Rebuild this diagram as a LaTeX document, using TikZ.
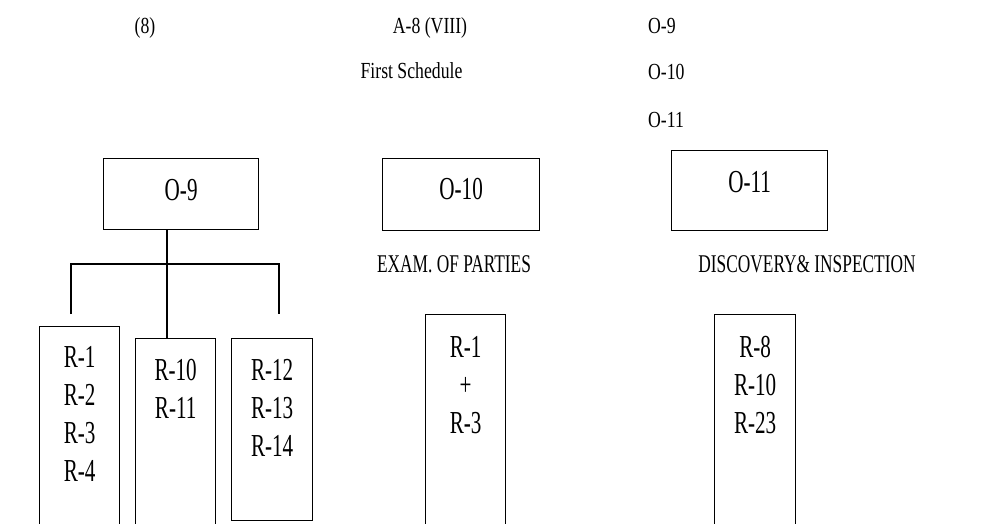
\documentclass[tikz,border=0pt]{standalone}
\usepackage{fontspec}
\setmainfont{Liberation Serif}
\newfontfamily\smallfnt[FakeStretch=0.77]{Liberation Serif}
\newfontfamily\midfnt[FakeStretch=0.68]{Liberation Serif}
\newfontfamily\bigfnt[FakeStretch=0.66]{Liberation Serif}
\newcommand{\ls}{38}

\begin{document}
\begin{tikzpicture}[x=1pt, y=-1pt,
    rect/.style={draw, rectangle, anchor=north west, line width=1.3pt, inner sep=0pt},
    link/.style={line width=1.3pt},
    head/.style={anchor=base, inner sep=0pt, font=\smallfnt\fontsize{23}{27}\selectfont},
    sub/.style={anchor=base, inner sep=0pt, font=\midfnt\fontsize{25.5}{30}\selectfont},
    big/.style={anchor=base, inner sep=0pt, font=\bigfnt\fontsize{32}{38}\selectfont}]
    \useasboundingbox (0,0) rectangle (1002,524);
    \clip (0,0) rectangle (1002,524);

    % Heading
    \node[head] (page) at (145,34) {(8)};
    \node[head] (act) at (430,34) {A-8 (VIII)};
    \node[head] (sched) at (411.5,79) {First Schedule};
    \node[head, anchor=base west] (head-9) at (648,34) {O-9};
    \node[head, anchor=base west] (head-10) at (648,80) {O-10};
    \node[head, anchor=base west] (head-11) at (648,127.5) {O-11};

    % Order boxes
    \node[rect, minimum width=155pt, minimum height=71pt] (rect-9) at (103,158) {};
    \node[rect, minimum width=157pt, minimum height=72pt] (rect-10) at (382,158) {};
    \node[rect, minimum width=156pt, minimum height=80pt] (rect-11) at (671,150) {};
    \node[big] (name-9) at (rect-9.north |- 0,200.5) {O-9};
    \node[big] (name-10) at (rect-10.north |- 0,199.5) {O-10};
    \node[big] (name-11) at (rect-11.north |- 0,192.5) {O-11};

    \node[sub] (title-10) at (454,272) {EXAM. OF PARTIES};
    \node[sub] (title-11) at (807,272) {DISCOVERY\& INSPECTION};

    % Rule boxes
    \node[rect, minimum width=80pt, minimum height=210pt] (list-9-1) at (39,326) {};
    \node[rect, minimum width=80pt, minimum height=200pt] (list-9-2) at (135,338) {};
    \node[rect, minimum width=81pt, minimum height=182pt] (list-9-3) at (231,338) {};
    \node[rect, minimum width=80pt, minimum height=220pt] (list-10) at (425,314) {};
    \node[rect, minimum width=81pt, minimum height=220pt] (list-11) at (714,314) {};

    \node[big] (rule-9-1-1) at (list-9-1.north |- 0,367) {R-1};
    \node[big] (rule-9-1-2) at (list-9-1.north |- 0,367+\ls) {R-2};
    \node[big] (rule-9-1-3) at (list-9-1.north |- 0,367+2*\ls) {R-3};
    \node[big] (rule-9-1-4) at (list-9-1.north |- 0,367+3*\ls) {R-4};

    \node[big] (rule-9-2-1) at (list-9-2.north |- 0,380.5) {R-10};
    \node[big] (rule-9-2-2) at (list-9-2.north |- 0,380.5+\ls) {R-11};

    \node[big] (rule-9-3-1) at (list-9-3.north |- 0,380.5) {R-12};
    \node[big] (rule-9-3-2) at (list-9-3.north |- 0,380.5+\ls) {R-13};
    \node[big] (rule-9-3-3) at (list-9-3.north |- 0,380.5+2*\ls) {R-14};

    \node[big] (rule-10-1) at (list-10.north |- 0,357.5) {R-1};
    \node[big] (rule-10-2) at (list-10.north |- 0,357.5+\ls) {+};
    \node[big] (rule-10-3) at (list-10.north |- 0,357.5+2*\ls) {R-3};

    \node[big] (rule-11-1) at (list-11.north |- 0,357.5) {R-8};
    \node[big] (rule-11-2) at (list-11.north |- 0,357.5+\ls) {R-10};
    \node[big] (rule-11-3) at (list-11.north |- 0,357.5+2*\ls) {R-23};

    % Tree of O-9
    \coordinate (split) at (167,264);
    \coordinate (drop-l) at (71,314);
    \coordinate (drop-r) at (279,314);
    \draw[link] (rect-9.south -| split) -- (list-9-2.north -| split);
    \draw[link] (drop-l) |- (split) -| (drop-r);

\end{tikzpicture}
\end{document}
